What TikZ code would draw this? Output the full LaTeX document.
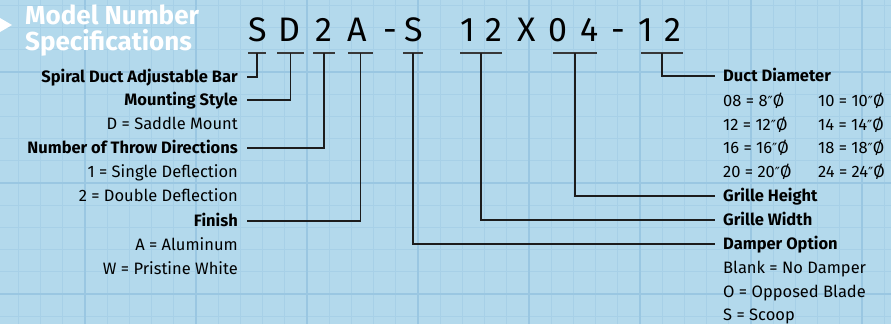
\documentclass[tikz,border=0pt]{standalone}
\usepackage{fontspec}
\setmainfont{Fira Sans}
\newfontfamily\titlefont{Fira Sans}
\newfontfamily\primefont{DejaVu Sans}
\usetikzlibrary{positioning,calc}
\definecolor{SheetBlue}{HTML}{B3D9EC}
\definecolor{GridMinor}{HTML}{A7D0E7}
\definecolor{GridMajor}{HTML}{9AC7E2}
\definecolor{LeaderInk}{HTML}{1C1C1C}

\newcommand{\inch}{{\primefont\fontsize{14}{14}\selectfont ″}}

\tikzset{
  codechar/.style={font=\fontsize{34}{34}\selectfont,inner sep=0pt,anchor=base},
  codebar/.style={line width=1.5pt,black!78},
  leader/.style={line width=1.3pt,LeaderInk},
  partlbl/.style={font=\bfseries\fontsize{16.5}{16.5}\selectfont,inner sep=0pt,
                  text height=11.5pt,text depth=0pt},
  optlbl/.style={font=\fontsize{16.5}{16.5}\selectfont,inner sep=0pt,
                 text height=11.5pt,text depth=0pt},
  titlelbl/.style={white,font=\titlefont\bfseries\fontsize{26}{24}\selectfont,
                   inner sep=0pt,anchor=base west},
}

\begin{document}
\begin{tikzpicture}[x=1pt,y=-1pt]
  \useasboundingbox (0,0) rectangle (891,324);
  % sheet and grid
  \fill[SheetBlue] (0,0) rectangle (891,324);
  \foreach \k in {-3,...,36}
    \draw[GridMinor,line width=0.8pt] ({85+22.2*\k},0) -- ({85+22.2*\k},324);
  \foreach \k in {-3,...,12}
    \draw[GridMinor,line width=0.8pt] (0,{72+22.2*\k}) -- (891,{72+22.2*\k});
  \foreach \k in {0,...,7}
    \draw[GridMajor,line width=1.6pt] ({85+111*\k},0) -- ({85+111*\k},324);
  \foreach \k in {0,...,2}
    \draw[GridMajor,line width=1.6pt] (0,{72+111*\k}) -- (891,{72+111*\k});

  % title
  \fill[white] (0,18) -- (12,25) -- (0,32) -- cycle;
  \node[titlelbl] (title) at (25,24) {Model Number};
  \node[titlelbl] (subtitle) at (25,50) {Specifications};

  % model number
  \foreach \x/\c/\n in {258/S/cS,289/D/cD,324/2/cTwo,357/A/cA,390/-/cDashA,414/S/cDamp,
                          468/1/cWa,494/2/cWb,527/X/cX,558/0/cHa,590/4/cHb,618/-/cDashB,
                          646/1/cDa,673/2/cDb}
    \node[codechar] (\n) at (\x,41) {\c};

  % bars under the fields
  \foreach \l/\r/\n in {248/266/bSpiral,277/304/bMount,313/335/bThrow,348/373/bFinish,
                          403/423/bDamper,460/502/bWidth,553/597/bHeight,641/683/bDuct}{
    \draw[codebar] (\l,53) -- (\r,53);
    \coordinate (\n) at ({(\l+\r)/2},53);
  }

  % left hand fields
  \node[partlbl,anchor=east] (spiral) at (238,77) {Spiral Duct Adjustable Bar};
  \node[partlbl,anchor=east] (mount) at (238,100) {Mounting Style};
  \node[optlbl,anchor=east] (saddle) at (238,124) {D = Saddle Mount};
  \node[partlbl,anchor=east] (throw) at (238,148) {Number of Throw Directions};
  \node[optlbl,anchor=east] (single) at (238,172) {1 = Single Deflection};
  \node[optlbl,anchor=east] (double) at (238,196) {2 = Double Deflection};
  \node[partlbl,anchor=east] (finish) at (238,221) {Finish};
  \node[optlbl,anchor=east] (alum) at (238,245) {A = Aluminum};
  \node[optlbl,anchor=east] (pwhite) at (238,269) {W = Pristine White};

  % right hand fields
  \node[partlbl,anchor=west] (duct) at (723,76) {Duct Diameter};
  \foreach \a/\b/\y in {08 = 8/10 = 10/101,12 = 12/14 = 14/125,
                          16 = 16/18 = 18/148,20 = 20/24 = 24/172}{
    \node[optlbl,anchor=west] at (723,\y) {\a\inch Ø};
    \node[optlbl,anchor=west] at (818,\y) {\b\inch Ø};
  }
  \node[partlbl,anchor=west] (height) at (723,196) {Grille Height};
  \node[partlbl,anchor=west] (width) at (723,220) {Grille Width};
  \node[partlbl,anchor=west] (damper) at (723,244) {Damper Option};
  \node[optlbl,anchor=west] (blank) at (723,268) {Blank = No Damper};
  \node[optlbl,anchor=west] (opposed) at (723,292) {O = Opposed Blade};
  \node[optlbl,anchor=west] (scoop) at (723,315) {S = Scoop};

  % leaders
  \draw[leader] (bSpiral) |- ([xshift=9pt]spiral.east);
  \draw[leader] (bMount) |- ([xshift=9pt]mount.east);
  \draw[leader] (bThrow) |- ([xshift=9pt]throw.east);
  \draw[leader] (bFinish) |- ([xshift=9pt]finish.east);
  \draw[leader] (bDuct) |- ([xshift=-8pt]duct.west);
  \draw[leader] (bHeight) |- ([xshift=-8pt]height.west);
  \draw[leader] (bWidth) |- ([xshift=-8pt]width.west);
  \draw[leader] (bDamper) |- ([xshift=-8pt]damper.west);
\end{tikzpicture}
\end{document}
